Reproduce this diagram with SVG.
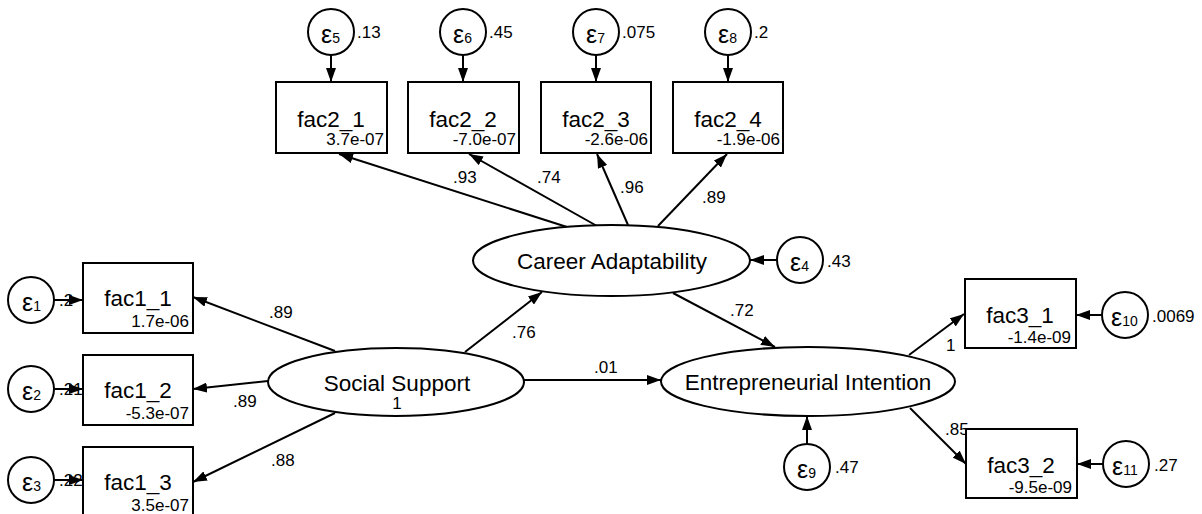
<svg xmlns="http://www.w3.org/2000/svg" width="1202" height="514" viewBox="0 0 1202 514">
<style>
.box{fill:#fff;stroke:#000;stroke-width:2}
.lat{fill:#fff;stroke:#000;stroke-width:2}
.err{fill:#fff;stroke:#000;stroke-width:2}
.ln{stroke:#000;stroke-width:2;fill:none;marker-end:url(#ah)}
text{font-family:"Liberation Sans",Arial,sans-serif;fill:#000}
.big{font-size:22.5px;text-anchor:middle}
.sm{font-size:17px;text-anchor:end}
.lab{font-size:17px}
.eps{font-size:25px}
.sub{font-size:14px}
</style>
<defs>
<marker id="ah" markerUnits="userSpaceOnUse" markerWidth="14" markerHeight="10" refX="14" refY="5" orient="auto">
<path d="M0,0 L14,5 L0,10 z" fill="#000"/>
</marker>
</defs>
<rect width="1202" height="514" fill="#fff"/>

<g id="connectors">
<line class="ln" x1="331" y1="55" x2="331" y2="82"/>
<line class="ln" x1="463" y1="55" x2="463" y2="82"/>
<line class="ln" x1="596" y1="55" x2="596" y2="82"/>
<line class="ln" x1="728" y1="55" x2="728" y2="82"/>
<line class="ln" x1="54" y1="300" x2="83" y2="300"/>
<line class="ln" x1="54" y1="389" x2="83" y2="389"/>
<line class="ln" x1="54" y1="480" x2="83" y2="480"/>
<line class="ln" x1="777" y1="260" x2="750" y2="260"/>
<line class="ln" x1="807" y1="444" x2="807" y2="416"/>
<line class="ln" x1="1102" y1="315" x2="1076" y2="315"/>
<line class="ln" x1="1103" y1="464" x2="1077" y2="464"/>
<line class="ln" x1="567" y1="227" x2="339" y2="154"/>
<line class="ln" x1="597" y1="226" x2="469" y2="154"/>
<line class="ln" x1="628" y1="225" x2="597" y2="154"/>
<line class="ln" x1="658" y1="226" x2="727" y2="154"/>
<line class="ln" x1="335" y1="351" x2="193" y2="297"/>
<line class="ln" x1="268" y1="381" x2="193" y2="389"/>
<line class="ln" x1="335" y1="413" x2="193" y2="482"/>
<line class="ln" x1="465" y1="352" x2="542" y2="292"/>
<line class="ln" x1="524" y1="380" x2="661" y2="380"/>
<line class="ln" x1="673" y1="293" x2="775" y2="347"/>
<line class="ln" x1="909" y1="355" x2="964" y2="314"/>
<line class="ln" x1="910" y1="408" x2="966" y2="464"/>
</g>

<g id="edge-labels">
<text class="lab" x="453" y="183">.93</text>
<text class="lab" x="537" y="183">.74</text>
<text class="lab" x="620" y="193">.96</text>
<text class="lab" x="702" y="203">.89</text>
<text class="lab" x="269" y="318">.89</text>
<text class="lab" x="233" y="407">.89</text>
<text class="lab" x="271" y="466">.88</text>
<text class="lab" x="512" y="338">.76</text>
<text class="lab" x="594" y="373">.01</text>
<text class="lab" x="946" y="351">1</text>
<text class="lab" x="730" y="316">.72</text>
<text class="lab" x="945" y="435">.85</text>
</g>

<g id="fac2_1"><rect class="box" x="276" y="82" width="111" height="71"/><text class="big" x="331" y="127">fac2_1</text><text class="sm" x="384" y="145">3.7e-07</text></g>
<g id="fac2_2"><rect class="box" x="408" y="82" width="111" height="71"/><text class="big" x="463" y="127">fac2_2</text><text class="sm" x="516" y="145">-7.0e-07</text></g>
<g id="fac2_3"><rect class="box" x="541" y="82" width="110" height="71"/><text class="big" x="596" y="127">fac2_3</text><text class="sm" x="648" y="145">-2.6e-06</text></g>
<g id="fac2_4"><rect class="box" x="673" y="82" width="110" height="71"/><text class="big" x="728" y="127">fac2_4</text><text class="sm" x="780" y="145">-1.9e-06</text></g>

<g id="fac1_1"><rect class="box" x="83" y="263" width="110" height="70"/><text class="big" x="138" y="306">fac1_1</text><text class="sm" x="189" y="327">1.7e-06</text></g>
<g id="fac1_2"><rect class="box" x="83" y="355" width="110" height="70"/><text class="big" x="138" y="398">fac1_2</text><text class="sm" x="189" y="419">-5.3e-07</text></g>
<g id="fac1_3"><rect class="box" x="83" y="447" width="110" height="70"/><text class="big" x="138" y="490">fac1_3</text><text class="sm" x="189" y="511">3.5e-07</text></g>

<g id="fac3_1"><rect class="box" x="965" y="279" width="111" height="69"/><text class="big" x="1020" y="323">fac3_1</text><text class="sm" x="1071" y="343">-1.4e-09</text></g>
<g id="fac3_2"><rect class="box" x="966" y="429" width="111" height="69"/><text class="big" x="1021" y="473">fac3_2</text><text class="sm" x="1072" y="493">-9.5e-09</text></g>

<g id="social_support"><ellipse class="lat" cx="396" cy="382" rx="128" ry="34"/><text class="big" x="397" y="391">Social Support</text><text class="big" x="397" y="409" style="font-size:17px">1</text></g>
<g id="career_adaptability"><ellipse class="lat" cx="611.5" cy="260.5" rx="138.5" ry="35.5"/><text class="big" x="612" y="269">Career Adaptability</text></g>
<g id="entrepreneurial_intention"><ellipse class="lat" cx="808" cy="381.5" rx="147" ry="34.5"/><text class="big" x="808" y="390">Entrepreneurial Intention</text></g>

<g id="e1"><circle class="err" cx="31" cy="300" r="23"/><text x="22" y="311"><tspan class="eps">ε</tspan><tspan class="sub">1</tspan></text><text class="lab" x="59" y="306">.2</text></g>
<g id="e2"><circle class="err" cx="31" cy="389" r="23"/><text x="22" y="400"><tspan class="eps">ε</tspan><tspan class="sub">2</tspan></text><text class="lab" x="59" y="395">.21</text></g>
<g id="e3"><circle class="err" cx="31" cy="480" r="23"/><text x="22" y="491"><tspan class="eps">ε</tspan><tspan class="sub">3</tspan></text><text class="lab" x="59" y="486">.22</text></g>
<g id="e4"><circle class="err" cx="800" cy="260" r="23"/><text x="790" y="271"><tspan class="eps">ε</tspan><tspan class="sub">4</tspan></text><text class="lab" x="827" y="267">.43</text></g>
<g id="e5"><circle class="err" cx="331" cy="32" r="23"/><text x="321" y="43"><tspan class="eps">ε</tspan><tspan class="sub">5</tspan></text><text class="lab" x="357" y="38">.13</text></g>
<g id="e6"><circle class="err" cx="463" cy="32" r="23"/><text x="453" y="43"><tspan class="eps">ε</tspan><tspan class="sub">6</tspan></text><text class="lab" x="489" y="38">.45</text></g>
<g id="e7"><circle class="err" cx="596" cy="32" r="23"/><text x="586" y="43"><tspan class="eps">ε</tspan><tspan class="sub">7</tspan></text><text class="lab" x="622" y="38">.075</text></g>
<g id="e8"><circle class="err" cx="728" cy="32" r="23"/><text x="718" y="43"><tspan class="eps">ε</tspan><tspan class="sub">8</tspan></text><text class="lab" x="754" y="38">.2</text></g>
<g id="e9"><circle class="err" cx="807" cy="467" r="23"/><text x="797" y="478"><tspan class="eps">ε</tspan><tspan class="sub">9</tspan></text><text class="lab" x="835" y="473">.47</text></g>
<g id="e10"><circle class="err" cx="1125" cy="315" r="23"/><text x="1111" y="326"><tspan class="eps">ε</tspan><tspan class="sub">10</tspan></text><text class="lab" x="1152" y="322">.0069</text></g>
<g id="e11"><circle class="err" cx="1126" cy="464" r="23"/><text x="1112" y="475"><tspan class="eps">ε</tspan><tspan class="sub">11</tspan></text><text class="lab" x="1154" y="471">.27</text></g>
</svg>
